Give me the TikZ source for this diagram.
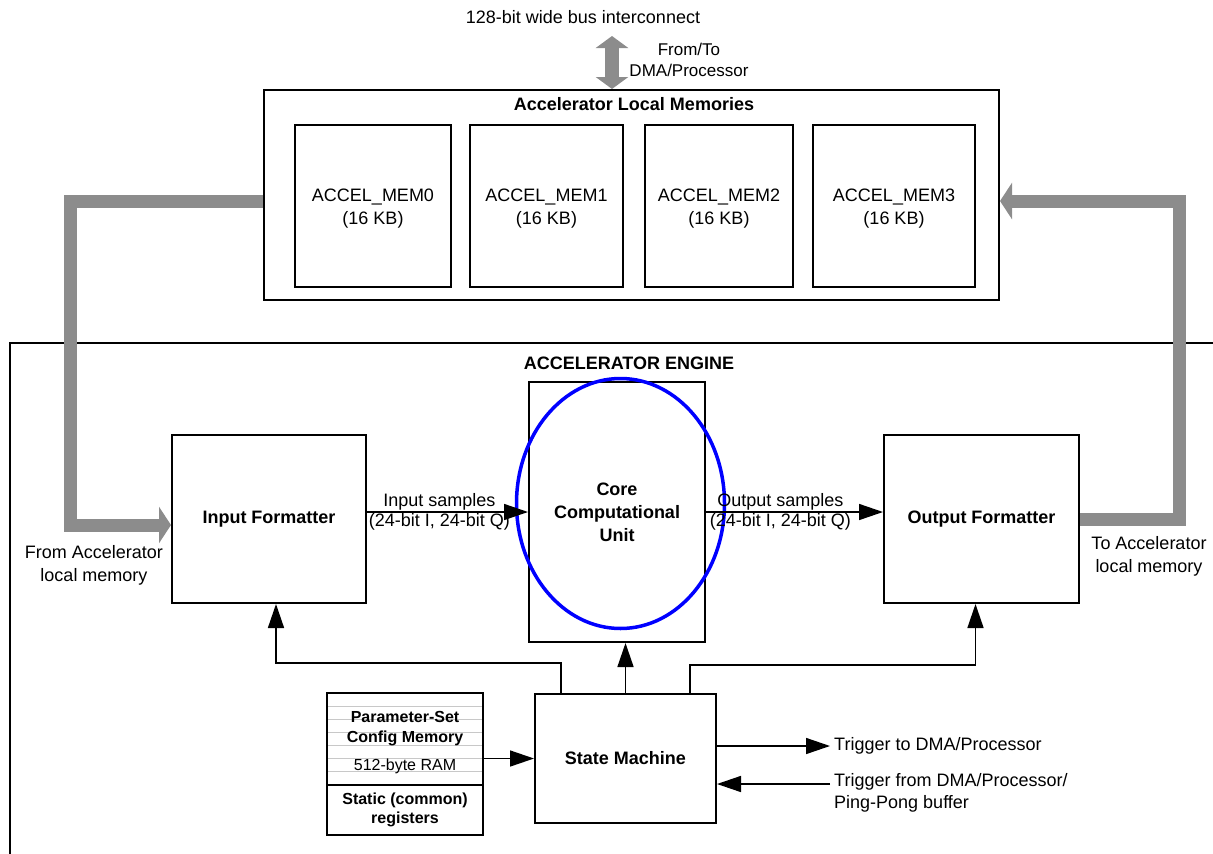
\documentclass[tikz,border=0pt]{standalone}
\usepackage{fontspec}
\setmainfont{Liberation Sans}
\usetikzlibrary{arrows.meta,positioning,calc,shapes.geometric}
\definecolor{busgrey}{HTML}{8C8C8C}
\definecolor{rulegrey}{HTML}{C8C8C8}
\definecolor{focusblue}{HTML}{0000FF}

\begin{document}
\begin{tikzpicture}[
  x=1pt, y=-1pt,
  font=\fontsize{18}{22}\selectfont,
  blk/.style={draw=black, line width=2pt, inner sep=0pt, align=center,
              font=\fontsize{18}{22}\selectfont\bfseries},
  membox/.style={draw=black, line width=2pt, inner sep=0pt, align=center,
                 minimum height=162pt, font=\fontsize{18}{23}\selectfont},
  smallblk/.style={draw=black, line width=2pt, inner sep=0pt, align=center,
                   minimum width=156pt, font=\fontsize{16}{19.5}\selectfont\bfseries},
  arr/.style={-{Triangle[length=24pt,width=16pt]}, line width=1.5pt},
  bus/.style={-{Triangle[length=12pt,width=36pt]}, busgrey, line width=13pt},
  dbus/.style={{Triangle[length=12pt,width=32pt]}-{Triangle[length=12pt,width=32pt]},
               busgrey, line width=14pt},
  lbl/.style={inner sep=2pt, align=center},
]
\useasboundingbox (0,0) rectangle (1213,854);

% ---------------- local memories ------------------------------------
\node[blk, minimum width=735pt, minimum height=210pt] (locmem) at (631.5,195) {};
\node[lbl, font=\fontsize{18}{22}\selectfont\bfseries] (locmemtitle) at (634,104)
  {Accelerator Local Memories};
\foreach \i/\cx/\w in {0/373/156pt, 1/546.5/153pt, 2/719/148pt, 3/894/162pt}
  \node[membox, minimum width=\w] (mem\i) at (\cx,206) {};
\foreach \i in {0,...,3}
  \node[lbl, font=\fontsize{18}{23}\selectfont] (memtxt\i) at ([yshift=-3pt]mem\i.center)
    {ACCEL\_MEM\i\\(16 KB)};

% bus towards DMA / processor
\node[lbl] (bustxt) at (583,17) {128-bit wide bus interconnect};
\coordinate (bustop) at (612,36);
\draw[dbus] (bustop) -- (bustop |- locmem.north);
\node[lbl, font=\fontsize{17}{21}\selectfont] (dmatxt) at (689,60) {From/To\\DMA/Processor};

% ---------------- accelerator engine --------------------------------
\draw[line width=2pt] (1213,343) -- (10,343) -- (10,854);
\node[lbl, font=\fontsize{18}{22}\selectfont\bfseries] (engtitle) at (629,363)
  {ACCELERATOR ENGINE};

\node[blk, minimum width=194pt, minimum height=168pt] (infmt) at (269,519) {Input Formatter};
\node[blk, minimum width=176pt, minimum height=260pt,
      font=\fontsize{18}{23}\selectfont\bfseries] (core) at (617,512)
  {Core\\Computational\\Unit};
\node[draw=focusblue, line width=3.5pt, ellipse, minimum width=208pt,
      minimum height=250pt, inner sep=0pt] (focus) at (620.5,503.5) {};
\node[blk, minimum width=195pt, minimum height=168pt] (outfmt) at (981.5,519) {Output Formatter};
\node[blk, minimum width=181pt, minimum height=129pt] (sm) at (625.5,758.5) {State Machine};

% parameter memory and static registers
\foreach \ry in {706,719,...,771}
  \draw[rulegrey, line width=1pt] (327,\ry) -- (483,\ry);
\node[smallblk, minimum height=92pt] (param) at (405,739) {};
\node[lbl, font=\fontsize{16}{20}\selectfont\bfseries] (paramtxt) at (405,729)
  {Parameter-Set\\Config Memory};
\node[lbl, font=\fontsize{16}{20}\selectfont] (ramtxt) at (405,766) {512-byte RAM};
\node[smallblk, minimum height=50pt] (static) at (405,810) {Static (common)\\registers};

% ---------------- sample paths --------------------------------------
\draw[arr] (infmt.east |- core.west) --
  node[lbl, pos=0.45, above, inner sep=1pt] (insamp) {Input samples}
  node[lbl, pos=0.45, below, inner sep=1pt] (iniq) {(24-bit I, 24-bit Q)} (core.west);
\draw[arr] (core.east) --
  node[lbl, pos=0.42, above, inner sep=1pt] (outsamp) {Output samples}
  node[lbl, pos=0.42, below, inner sep=1pt] (outiq) {(24-bit I, 24-bit Q)}
  (outfmt.west |- core.east);

% grey buses to and from local memory
\coordinate (lbend) at (70,201);
\coordinate (lfoot) at (70,525);
\draw[bus] (locmem.west |- lbend) -- (lbend) -- (lfoot) -- (infmt.west |- lfoot);
\node[lbl, font=\fontsize{18}{23}\selectfont] (fromacc) at (94,565)
  {From Accelerator\\local memory};
\coordinate (rbend) at (1179,201);
\draw[bus] (outfmt.east) -- (outfmt.east -| rbend) -- (rbend) -- (locmem.east |- rbend);
\node[lbl, font=\fontsize{18}{23}\selectfont] (toacc) at (1149,556)
  {To Accelerator\\local memory};

% ---------------- state machine control -----------------------------
\coordinate (tapL) at (561,663);
\coordinate (tapR) at (690,665);
\coordinate (inin) at ([xshift=7pt]infmt.south);
\coordinate (outin) at ([xshift=-6pt]outfmt.south);
\draw[arr] (sm.north -| tapL) -- (tapL) -- (tapL -| inin) -- (inin);
\draw[arr] (sm.north) -- (sm.north |- core.south);
\draw[arr] (sm.north -| tapR) -- (tapR) -- (tapR -| outin) -- (outin);
\draw[arr] (param.east |- sm.west) -- (sm.west);

% triggers
\node[lbl, anchor=west, inner sep=4pt] (trigto) at (830,746) {Trigger to DMA/Processor};
\draw[arr] (sm.east |- trigto.west) -- (trigto.west);
\node[lbl, anchor=west, align=left, inner sep=4pt] (trigfrom) at (830,793)
  {Trigger from DMA/Processor/\\Ping-Pong buffer};
\coordinate (trigin) at (830,784);
\draw[arr] (trigfrom.west |- trigin) -- (sm.east |- trigin);

\end{tikzpicture}
\end{document}
